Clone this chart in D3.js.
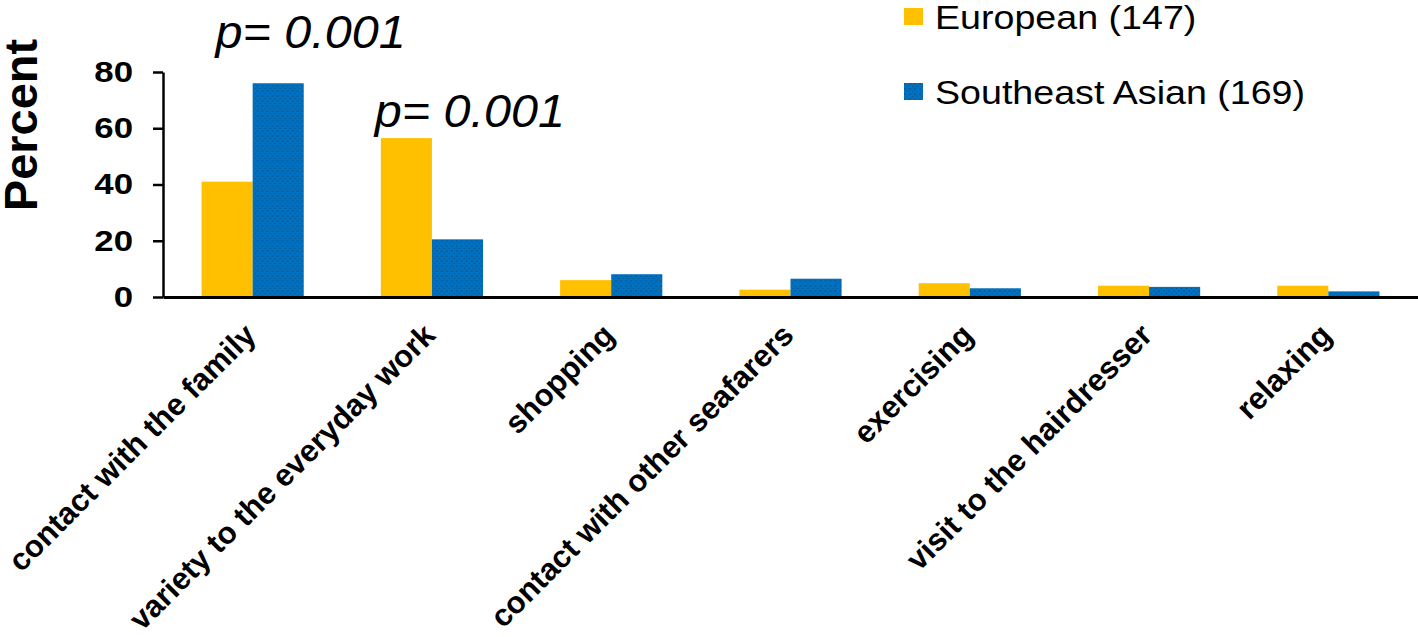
<!DOCTYPE html>
<html>
<head>
<meta charset="utf-8">
<script src="https://cdn.jsdelivr.net/npm/d3@7"></script>
<style>
  body { margin: 0; background: #fff; }
  svg { display: block; font-family: "Liberation Sans", Arial, sans-serif; }
</style>
</head>
<body>
<div id="chart"></div>
<script>
// Data
var categories = ["contact with the family", "variety to the everyday work", "shopping",
    "contact with other seafarers", "exercising", "visit to the hairdresser", "relaxing"];
var european = [41, 56.5, 6, 2.6, 4.9, 4, 4];
var southeastAsian = [76, 20.5, 8.1, 6.5, 3.1, 3.6, 2];
var seriesNames = ["European (147)", "Southeast Asian (169)"];
var yTicks = [0, 20, 40, 60, 80];
var pCategories = ["contact with the family", "variety to the everyday work"];
var pTexts = ["p= 0.001", "p= 0.001"];

var chart = { "width": 1418, "height": 637,
    "margin": {top: 72, right: 0, left: 163},
    "base": 297
};
var colors = ["#FFC000", "#0070C0"];
var font = "'Liberation Sans', Arial, sans-serif";

var svg = d3.select("#chart").append("svg")
    .attr("width", chart.width)
    .attr("height", chart.height);

// dotted fill for the blue series
var defs = svg.append("defs");
var pat = defs.append("pattern")
    .attr("id", "dots")
    .attr("patternUnits", "userSpaceOnUse")
    .attr("width", 5).attr("height", 5);
pat.append("rect").attr("width", 5).attr("height", 5).attr("fill", colors[1]);
pat.append("circle").attr("cx", 1).attr("cy", 1).attr("r", 0.55).attr("fill", "#2a2a30");
pat.append("circle").attr("cx", 3.5).attr("cy", 3.5).attr("r", 0.45).attr("fill", "#2a2a30");
var fills = [colors[0], "url(#dots)"];

var x = d3.scaleBand()
    .domain(categories)
    .range([chart.margin.left, chart.width])
    .paddingInner(0.43)
    .paddingOuter(0.215);
var xSub = d3.scaleBand().domain([0, 1]).range([0, x.bandwidth()]);
var y = d3.scaleLinear().domain([0, 80]).range([chart.base, chart.margin.top]);

// bars
var rows = categories.map(function(c, i) { return {cat: c, vals: [european[i], southeastAsian[i]]}; });
var groups = svg.selectAll(".grp")
    .data(rows)
    .enter().append("g")
    .attr("class", "grp")
    .attr("transform", function(d) { return "translate(" + x(d.cat) + ",0)"; });
groups.selectAll("rect")
    .data(function(d) { return d.vals.map(function(v, k) { return {k: k, v: v}; }); })
    .enter().append("rect")
    .attr("x", function(d) { return xSub(d.k); })
    .attr("width", xSub.bandwidth())
    .attr("y", function(d) { return y(d.v); })
    .attr("height", function(d) { return y(0) - y(d.v); })
    .attr("fill", function(d) { return fills[d.k]; });

// y axis (labels are a bit wide in the original, hence the x-scale)
var yAxis = svg.append("g")
    .attr("transform", "translate(" + chart.margin.left + ",0)")
    .call(d3.axisLeft(y).tickValues(yTicks).tickSize(10).tickSizeOuter(0));
yAxis.select(".domain").attr("stroke", "#000").attr("stroke-width", 2.5);
yAxis.selectAll(".tick line").attr("stroke", "#000").attr("stroke-width", 2.5);
yAxis.selectAll(".tick text")
    .attr("x", -30 / 1.2)
    .attr("transform", "scale(1.2,1)")
    .style("font-size", "29px").style("font-weight", "bold")
    .style("font-family", font).attr("fill", "#000");

// x axis
var xAxis = svg.append("g")
    .attr("transform", "translate(0," + y(0) + ")")
    .call(d3.axisBottom(x).tickSize(0).tickSizeOuter(0));
xAxis.select(".domain").attr("stroke", "#000").attr("stroke-width", 3);
xAxis.selectAll(".tick text")
    .attr("x", 0).attr("y", 0).attr("dy", 0)
    .attr("transform", "translate(5,40) rotate(-45)")
    .style("text-anchor", "end")
    .style("font-size", "31px").style("font-weight", "bold")
    .style("font-family", font).attr("fill", "#000");

// y title
svg.append("text")
    .attr("transform", "translate(37,125) rotate(-90)")
    .attr("text-anchor", "middle")
    .style("font-size", "47px").style("font-weight", "bold")
    .text("Percent");

// p-value annotations
var pOffsets = [{dx: 14, y: 48}, {dx: -6, y: 127}];
pTexts.forEach(function(t, i) {
    svg.append("text")
        .attr("transform", "translate(" + (x(pCategories[i]) + pOffsets[i].dx) + "," + pOffsets[i].y + ") scale(1.055,1)")
        .style("font-size", "46px").style("font-style", "italic")
        .text(t);
});

// legend
var legend = svg.selectAll(".legend")
    .data(seriesNames)
    .enter().append("g")
    .attr("class", "legend")
    .attr("transform", function(d, i) { return "translate(904," + (8 + i * 75) + ")"; });
legend.append("rect")
    .attr("width", 19).attr("height", 17)
    .attr("fill", function(d, i) { return fills[i]; });
legend.append("text")
    .attr("transform", "translate(31,21) scale(1.14,1)")
    .style("font-size", "33px")
    .text(function(d) { return d; });
</script>
</body>
</html>
